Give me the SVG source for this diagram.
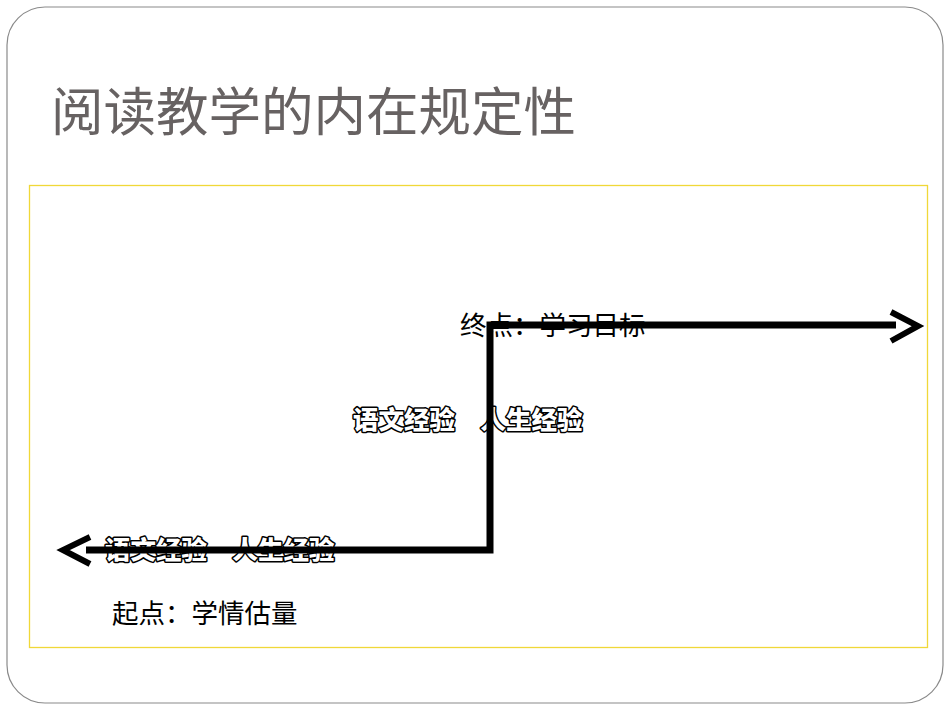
<svg xmlns="http://www.w3.org/2000/svg" width="950" height="713" viewBox="0 0 950 713">
<style>
.lbl{font-family:"Noto Sans CJK SC","Noto Sans",sans-serif;font-size:26.5px;fill:#000}
.out{font-family:"Noto Sans CJK SC","Noto Sans",sans-serif;font-size:25.5px;font-weight:900;fill:#fff;stroke:#000;stroke-width:3;paint-order:stroke fill;stroke-linejoin:round}
.ln{fill:none;stroke:#000;stroke-width:7}
.hd{fill:none;stroke:#000;stroke-width:6}
</style>
<rect x="0" y="0" width="950" height="713" fill="#fff"/>
<rect x="7" y="7" width="936" height="696" rx="38" ry="38" fill="#fff" stroke="#8a8a8a" stroke-width="1.2"/>
<g id="title"><text x="51" y="131" font-family="Noto Sans CJK SC, sans-serif" font-size="52.5" font-weight="400" fill="#676262">阅读教学的内在规定性</text></g>
<rect id="frame" x="29.5" y="185.5" width="898" height="462" fill="none" stroke="#f0d838" stroke-width="1.3"/>
<g id="end-label"><text class="lbl" x="460" y="335">终点：学习目标</text></g>
<g id="mid-label"><text class="out" x="353" y="429">语文经验　人生经验</text></g>
<g id="low-label"><text class="out" x="105" y="559">语文经验　人生经验</text></g>
<g id="start-label"><text class="lbl" x="112" y="623">起点：学情估量</text></g>
<g id="connectors">
<path class="ln" d="M86 550 H490 V325 H896"/>
<path class="hd" d="M891 312 L918 326 L891 341"/>
<path class="hd" d="M90 537 L63 550 L90 564"/>
</g>
</svg>
